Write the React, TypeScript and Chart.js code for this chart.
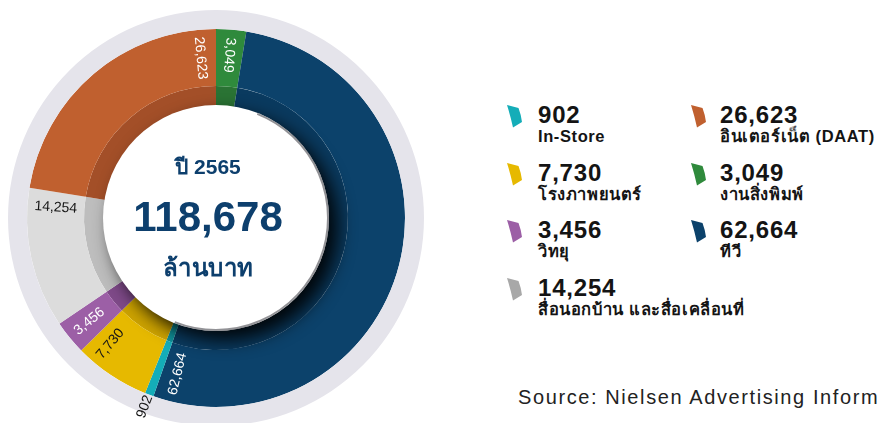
import React, { useEffect, useRef } from "react";
import { Chart, registerables } from "chart.js";

Chart.register(...registerables);

// ---- data (clockwise from 12 o'clock) ----
const categories = [
  "งานสิ่งพิมพ์",
  "ทีวี",
  "In-Store",
  "โรงภาพยนตร์",
  "วิทยุ",
  "สื่อนอกบ้าน และสื่อเคลื่อนที่",
  "อินเตอร์เน็ต (DAAT)",
];
const values = [3049, 62664, 902, 7730, 3456, 14254, 26623];
const mainColors = ["#2f8a3c", "#0c426b", "#14adb8", "#e6b900", "#9c5fa6", "#dcdcdc", "#c0602f"];
const innerColors = ["#2a7334", "#0a3a5f", "#0f8f98", "#cda300", "#7f4a89", "#bdbdbd", "#a34f28"];
const legendColors = ["#2f8a3c", "#0c426b", "#14adb8", "#e6b900", "#9c5fa6", "#a8a8a8", "#c0602f"];
const labelColors = ["#ffffff", "#ffffff", "#151515", "#151515", "#ffffff", "#151515", "#ffffff"];
const legendOrder = [2, 6, 3, 0, 4, 1, 5];
const yearLabel = "ปี 2565";
const unitLabel = "ล้านบาท";
const sourceText = "Source: Nielsen Advertising Information";
const ringColor = "#e5e4eb";

const fmt = (v: number) => v.toLocaleString("en-US");
const total = values.reduce((a, b) => a + b, 0);

const decorPlugin = {
  id: "decor",
  afterDatasetsDraw(chart: any) {
    const ctx = chart.ctx as CanvasRenderingContext2D;
    const arcs = chart.getDatasetMeta(1).data as any[];
    const innerArc = chart.getDatasetMeta(2).data[0] as any;
    const cx = arcs[0].x;
    const cy = arcs[0].y;
    const ri = innerArc.innerRadius;

    // white centre disc with cast shadow
    ctx.save();
    ctx.beginPath();
    ctx.arc(cx, cy, ri + 1, 0, Math.PI * 2);
    ctx.shadowColor = "rgba(0,0,0,0.9)";
    ctx.shadowBlur = 18;
    ctx.shadowOffsetX = 9;
    ctx.shadowOffsetY = 9;
    ctx.fillStyle = "#ffffff";
    ctx.fill();
    ctx.restore();

    // grey rim on the right side
    ctx.save();
    ctx.beginPath();
    ctx.arc(cx, cy, ri, -Math.PI * 0.38, Math.PI * 0.62);
    ctx.strokeStyle = "rgba(110,110,115,0.75)";
    ctx.lineWidth = 2;
    ctx.stroke();
    ctx.restore();

    // value labels
    const deg = Math.PI / 180;
    ctx.save();
    ctx.font = "14px 'Liberation Sans', Arial, sans-serif";
    ctx.textBaseline = "middle";
    arcs.forEach((arc: any, i: number) => {
      const start = arc.startAngle;
      const end = arc.endAngle;
      const span = end - start;
      let a: number;
      let r: number;
      let align: CanvasTextAlign;
      if (span < 4 * deg) {
        a = (start + end) / 2;
        r = arc.outerRadius + 1;
        align = "right";
      } else if (span < 15 * deg) {
        a = (start + end) / 2;
        r = arc.outerRadius - 8;
        align = "left";
      } else {
        a = end - 5.5 * deg;
        r = arc.outerRadius - 7;
        align = "left";
      }
      ctx.save();
      ctx.translate(cx + r * Math.cos(a), cy + r * Math.sin(a));
      ctx.rotate(a + Math.PI);
      ctx.textAlign = align;
      ctx.fillStyle = labelColors[i];
      ctx.fillText(fmt(values[i]), 0, 0);
      ctx.restore();
    });
    ctx.restore();
  },
};

function LegendIcon({ color }: { color: string }) {
  return (
    <svg width="18" height="25" viewBox="0 0 18 25" style={{ display: "block" }}>
      <path d="M1 1 L12.5 4 Q15 10.5 16 18 L7 23.5 Q4.5 12 1 1 Z" fill={color} />
    </svg>
  );
}

export default function App() {
  const canvasRef = useRef<HTMLCanvasElement | null>(null);

  useEffect(() => {
    if (!canvasRef.current) return;
    const chart = new Chart(canvasRef.current, {
      type: "doughnut",
      data: {
        labels: categories,
        datasets: [
          { data: [total], backgroundColor: [ringColor], weight: 19, borderWidth: 0 } as any,
          { data: values, backgroundColor: mainColors, weight: 57, borderWidth: 0 } as any,
          { data: values, backgroundColor: innerColors, weight: 20, borderWidth: 0 } as any,
        ],
      },
      options: {
        responsive: false,
        animation: false,
        cutout: 112,
        events: [],
        layout: { padding: { left: 8, top: 10, right: 16, bottom: 14 } },
        plugins: { legend: { display: false }, tooltip: { enabled: false } },
      } as any,
      plugins: [decorPlugin],
    });
    return () => chart.destroy();
  }, []);

  const thaiFont = "'Liberation Sans', Arial, 'Noto Sans', sans-serif";
  const navy = "#0d3f6d";
  const rowTop = (row: number) => 103 + row * 57.7;

  return (
    <div
      style={{
        position: "absolute",
        left: 0,
        top: 0,
        width: 878,
        height: 423,
        overflow: "hidden",
        background: "#ffffff",
        fontFamily: thaiFont,
      }}
    >
      <canvas
        ref={canvasRef}
        width={440}
        height={440}
        style={{ position: "absolute", left: 0, top: 0, width: 440, height: 440 }}
      />
      {/* centre text */}
      <div
        style={{
          position: "absolute",
          left: 108,
          width: 200,
          top: 154,
          textAlign: "center",
          color: navy,
          fontSize: 21,
          fontWeight: 600,
          lineHeight: "26px",
        }}
      >
        {yearLabel}
      </div>
      <div
        style={{
          position: "absolute",
          left: 98,
          width: 220,
          top: 193,
          textAlign: "center",
          color: navy,
          fontSize: 42,
          fontWeight: 700,
          lineHeight: "48px",
        }}
      >
        {fmt(total)}
      </div>
      <div
        style={{
          position: "absolute",
          left: 98,
          width: 220,
          top: 253,
          textAlign: "center",
          color: navy,
          fontSize: 24,
          fontWeight: 600,
          lineHeight: "30px",
          letterSpacing: 0.5,
        }}
      >
        {unitLabel}
      </div>

      {/* legend */}
      {legendOrder.map((idx, k) => {
        const col = k % 2;
        const row = Math.floor(k / 2);
        const left = col === 0 ? 506 : 690;
        const top = rowTop(row);
        return (
          <div key={idx} style={{ position: "absolute", left, top, whiteSpace: "nowrap" }}>
            <div style={{ position: "absolute", left: 0, top: 1 }}>
              <LegendIcon color={legendColors[idx]} />
            </div>
            <div
              style={{
                position: "absolute",
                left: col === 0 ? 32 : 30,
                top: 0,
                fontSize: 24,
                fontWeight: 700,
                lineHeight: "24px",
                color: "#141414",
                letterSpacing: 0.8,
              }}
            >
              {fmt(values[idx])}
            </div>
            <div
              style={{
                position: "absolute",
                left: col === 0 ? 32 : 30,
                top: 24,
                fontSize: 16.5,
                fontWeight: 700,
                lineHeight: "18px",
                color: "#141414",
                letterSpacing: 0.6,
              }}
            >
              {categories[idx]}
            </div>
          </div>
        );
      })}

      {/* source */}
      <div
        style={{
          position: "absolute",
          left: 518,
          top: 385,
          fontSize: 20,
          lineHeight: "24px",
          color: "#222222",
          letterSpacing: 1.6,
          whiteSpace: "nowrap",
        }}
      >
        {sourceText}
      </div>
    </div>
  );
}
